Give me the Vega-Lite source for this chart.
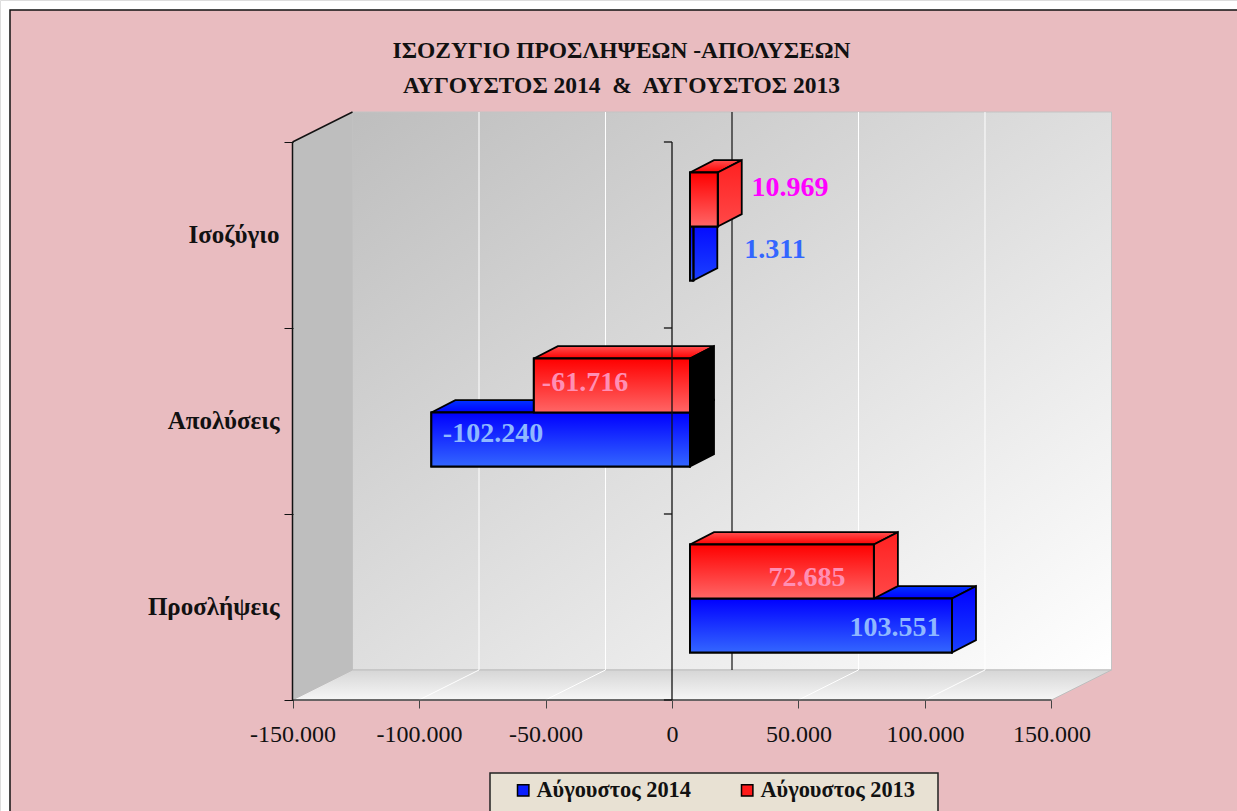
{
"$schema":"https://vega.github.io/schema/vega-lite/v6.json",
"width":1237,"height":811,"padding":0,"autosize":{"type":"none"},"background":"white",
"title":{"text":["ΙΣΟΖΥΓΙΟ ΠΡΟΣΛΗΨΕΩΝ -ΑΠΟΛΥΣΕΩΝ","ΑΥΓΟΥΣΤΟΣ 2014\u00a0 &\u00a0 ΑΥΓΟΥΣΤΟΣ 2013"],"font":"Liberation Serif","fontSize":23.5,"fontWeight":"bold","color":"#111","lineHeight":35,"anchor":"middle","dx":3,"offset":-116,"baseline":"alphabetic"},
"resolve":{"axis":{"x":"independent","y":"independent"}},
"datasets":{"bars":[
{"category":"Προσλήψεις","series":"Αύγουστος 2014","value":103551},
{"category":"Απολύσεις","series":"Αύγουστος 2014","value":-102240},
{"category":"Ισοζύγιο","series":"Αύγουστος 2014","value":1311},
{"category":"Προσλήψεις","series":"Αύγουστος 2013","value":72685},
{"category":"Απολύσεις","series":"Αύγουστος 2013","value":-61716},
{"category":"Ισοζύγιο","series":"Αύγουστος 2013","value":10969}],
"gridTicks":[{"tick":-100000},{"tick":-50000},{"tick":50000},{"tick":100000}],
"bands":[{"b":0},{"b":1},{"b":2},{"b":3}],
"one":[{"part":"frame"}]},
"layer":[
{"data":{"name":"one"},"mark":{"type":"rect","fill":"#E9BCC0","stroke":"#111","strokeWidth":1.5},
 "encoding":{
 "x":{"datum":-261663,"type":"quantitative","axis":null,"scale":{"domain":[-265615,223322],"nice":false,"zero":false}},
 "x2":{"datum":240000},
 "y":{"datum":-0.7,"type":"quantitative","axis":null,"scale":{"domain":[-0.5968,3.7634],"nice":false,"zero":false}},
 "y2":{"datum":3.7097}}},
{"data":{"name":"one"},"mark":{"type":"rect","fill":"#E8E1D3","stroke":"#222","strokeWidth":1.5},
 "encoding":{
 "x":{"datum":-71937,"type":"quantitative","axis":null,"scale":{"domain":[-265615,223322],"nice":false,"zero":false}},
 "x2":{"datum":105139},
 "y":{"datum":-0.3925,"type":"quantitative","axis":null,"scale":{"domain":[-0.5968,3.7634],"nice":false,"zero":false}},
 "y2":{"datum":-0.62}}},
{"data":{"name":"one"},"mark":{"type":"rect","fill":{"x1":0,"y1":0,"x2":1,"y2":1,"gradient":"linear","stops":[{"offset":0,"color":"#BEBEBE"},{"offset":1,"color":"#FFFFFF"}]},"stroke":"#C4C4C4"},
 "encoding":{"x":{"datum":-126284,"type":"quantitative","axis":null,"scale":{"domain":[-265615,223322],"nice":false,"zero":false}},"x2":{"datum":173716},"y":{"datum":0.1613,"type":"quantitative","axis":null,"scale":{"domain":[-0.5968,3.7634],"nice":false,"zero":false}},"y2":{"datum":3.1613}}},
{"data":{"name":"one"},"transform":[{"calculate":"[0,1]","as":"k"},{"flatten":["k"]},{"calculate":"[-150000,-126284][datum.k]","as":"xv"},{"calculate":"[0,0.1613][datum.k]","as":"a"},{"calculate":"[3,3.1613][datum.k]","as":"b"}],
 "mark":{"type":"area","orient":"vertical","fill":"#BEBEBE"},
 "encoding":{"x":{"field":"xv","type":"quantitative","axis":null,"scale":{"domain":[-265615,223322],"nice":false,"zero":false}},"y":{"field":"a","type":"quantitative","axis":null,"scale":{"domain":[-0.5968,3.7634],"nice":false,"zero":false}},"y2":{"field":"b"}}},
{"data":{"name":"one"},"transform":[{"calculate":"[0,1,2,3]","as":"k"},{"flatten":["k"]},{"calculate":"[-150000,-126284,150000,173716][datum.k]","as":"xv"},{"calculate":"[0,0.1613,0.1613,0.1613][datum.k]","as":"a"},{"calculate":"[0,0,0,0.1613][datum.k]","as":"b"}],
 "mark":{"type":"area","orient":"vertical","fill":{"x1":0,"y1":0,"x2":0,"y2":1,"gradient":"linear","stops":[{"offset":0,"color":"#D6D6D6"},{"offset":1,"color":"#F6F6F6"}]},"stroke":"#BEBEBE"},
 "encoding":{"x":{"field":"xv","type":"quantitative","axis":null,"scale":{"domain":[-265615,223322],"nice":false,"zero":false}},"y":{"field":"a","type":"quantitative","axis":null,"scale":{"domain":[-0.5968,3.7634],"nice":false,"zero":false}},"y2":{"field":"b"}}},
{"data":{"name":"gridTicks"},"transform":[{"calculate":"datum.tick+23716","as":"back"}],"mark":{"type":"rule","color":"#FFFFFF","strokeWidth":1},
 "encoding":{"x":{"field":"back","type":"quantitative","axis":null,"scale":{"domain":[-265615,223322],"nice":false,"zero":false}},"y":{"datum":0.1613,"type":"quantitative","axis":null,"scale":{"domain":[-0.5968,3.7634],"nice":false,"zero":false}},"y2":{"datum":3.1613}}},
{"data":{"name":"gridTicks"},"transform":[{"calculate":"datum.tick+23716","as":"back"}],"mark":{"type":"rule","color":"#FFFFFF","strokeWidth":1},
 "encoding":{"x":{"field":"tick","type":"quantitative","axis":null,"scale":{"domain":[-265615,223322],"nice":false,"zero":false}},"x2":{"field":"back"},"y":{"datum":0,"type":"quantitative","axis":null,"scale":{"domain":[-0.5968,3.7634],"nice":false,"zero":false}},"y2":{"datum":0.1613}}},
{"data":{"name":"one"},"mark":{"type":"rule","color":"#444","strokeWidth":1.5},
 "encoding":{"x":{"datum":-150000,"type":"quantitative","axis":null,"scale":{"domain":[-265615,223322],"nice":false,"zero":false}},"x2":{"datum":150000},"y":{"datum":0,"type":"quantitative","axis":null,"scale":{"domain":[-0.5968,3.7634],"nice":false,"zero":false}}}},
{"data":{"name":"one"},"mark":{"type":"rule","color":"#111","strokeWidth":1.5},
 "encoding":{"x":{"datum":-150000,"type":"quantitative","axis":null,"scale":{"domain":[-265615,223322],"nice":false,"zero":false}},"y":{"datum":0,"type":"quantitative","axis":null,"scale":{"domain":[-0.5968,3.7634],"nice":false,"zero":false}},"y2":{"datum":3}}},
{"data":{"name":"one"},"mark":{"type":"rule","color":"#111","strokeWidth":1.5},
 "encoding":{"x":{"datum":-150000,"type":"quantitative","axis":null,"scale":{"domain":[-265615,223322],"nice":false,"zero":false}},"x2":{"datum":-126284},"y":{"datum":3,"type":"quantitative","axis":null,"scale":{"domain":[-0.5968,3.7634],"nice":false,"zero":false}},"y2":{"datum":3.1613}}},
{"data":{"name":"one"},"mark":{"type":"rule","color":"#111","strokeWidth":1.2},
 "encoding":{"x":{"datum":23716,"type":"quantitative","axis":null,"scale":{"domain":[-265615,223322],"nice":false,"zero":false}},"y":{"datum":0.1613,"type":"quantitative","axis":null,"scale":{"domain":[-0.5968,3.7634],"nice":false,"zero":false}},"y2":{"datum":3.1613}}},
{"data":{"name":"bars"},"transform":[
 {"calculate":"indexof(['Προσλήψεις','Απολύσεις','Ισοζύγιο'],datum.category)","as":"c"},{"calculate":"datum.series=='Αύγουστος 2014'?0:1","as":"s"},
 {"calculate":"datum.c+0.255+datum.s*0.2903+0.2903","as":"yt"},{"calculate":"min(datum.value,0)+7115","as":"lo"},{"calculate":"max(datum.value,0)+7115","as":"hi"},
 {"calculate":"[0,1,2,3]","as":"k"},{"flatten":["k"]},
 {"calculate":"[datum.lo,min(datum.lo+9486,datum.hi),max(datum.lo+9486,datum.hi),datum.hi+9486][datum.k]","as":"xv"},
 {"calculate":"datum.yt+0.067*min(1,(datum.xv-datum.lo)/9486)","as":"a"},{"calculate":"datum.yt+0.067*max(0,(datum.xv-datum.hi)/9486)","as":"b"}],
 "mark":{"type":"area","orient":"vertical","stroke":"#000","strokeWidth":1.8},
 "encoding":{"x":{"field":"xv","type":"quantitative","axis":null,"scale":{"domain":[-265615,223322],"nice":false,"zero":false}},"y":{"field":"a","type":"quantitative","axis":null,"scale":{"domain":[-0.5968,3.7634],"nice":false,"zero":false}},"y2":{"field":"b"},"detail":[{"field":"category"},{"field":"series"}],
 "fill":{"condition":{"test":"datum.s==0","value":{"x1":0,"y1":0,"x2":0,"y2":1,"gradient":"linear","stops":[{"offset":0,"color":"#0033FF"},{"offset":1,"color":"#0000FF"}]}},"value":{"x1":0,"y1":0,"x2":0,"y2":1,"gradient":"linear","stops":[{"offset":0,"color":"#FF5050"},{"offset":1,"color":"#FF0000"}]}}}},
{"data":{"name":"bars"},"transform":[
 {"calculate":"indexof(['Προσλήψεις','Απολύσεις','Ισοζύγιο'],datum.category)","as":"c"},{"calculate":"datum.series=='Αύγουστος 2014'?0:1","as":"s"},
 {"calculate":"datum.c+0.255+datum.s*0.2903","as":"y0"},{"calculate":"max(datum.value,0)+7115","as":"hi"},
 {"calculate":"[0,1]","as":"k"},{"flatten":["k"]},
 {"calculate":"datum.hi+9486*datum.k","as":"xv"},{"calculate":"datum.y0+0.067*datum.k","as":"a"},{"calculate":"datum.y0+0.2903+0.067*datum.k","as":"b"}],
 "mark":{"type":"area","orient":"vertical","stroke":"#000","strokeWidth":1.8},
 "encoding":{"x":{"field":"xv","type":"quantitative","axis":null,"scale":{"domain":[-265615,223322],"nice":false,"zero":false}},"y":{"field":"a","type":"quantitative","axis":null,"scale":{"domain":[-0.5968,3.7634],"nice":false,"zero":false}},"y2":{"field":"b"},"detail":[{"field":"category"},{"field":"series"}],
 "fill":{"condition":[{"test":"datum.value<0","value":"#000000"},{"test":"datum.s==0","value":{"x1":0,"y1":0,"x2":0,"y2":1,"gradient":"linear","stops":[{"offset":0,"color":"#0000FF"},{"offset":1,"color":"#1A40FF"}]}}],"value":{"x1":0,"y1":0,"x2":0,"y2":1,"gradient":"linear","stops":[{"offset":0,"color":"#FF2020"},{"offset":1,"color":"#FF4848"}]}}}},
{"data":{"name":"bars"},"transform":[
 {"calculate":"indexof(['Προσλήψεις','Απολύσεις','Ισοζύγιο'],datum.category)","as":"c"},{"calculate":"datum.series=='Αύγουστος 2014'?0:1","as":"s"},
 {"calculate":"datum.c+0.255+datum.s*0.2903","as":"y0"},{"calculate":"datum.y0+0.2903","as":"y1"},{"calculate":"datum.value+7115","as":"end"},{"calculate":"7115","as":"start"}],
 "mark":{"type":"rect","stroke":"#000","strokeWidth":2},
 "encoding":{"x":{"field":"end","type":"quantitative","axis":null,"scale":{"domain":[-265615,223322],"nice":false,"zero":false}},"x2":{"field":"start"},"y":{"field":"y0","type":"quantitative","axis":null,"scale":{"domain":[-0.5968,3.7634],"nice":false,"zero":false}},"y2":{"field":"y1"},
 "fill":{"field":"series","type":"nominal","scale":{"domain":["Αύγουστος 2014","Αύγουστος 2013"],"range":["#0A1EFF","#FF1A1A"]},
 "legend":{"title":null,"orient":"none","legendX":490,"legendY":770,"direction":"horizontal","padding":9,"symbolType":"square","symbolSize":130,"symbolStrokeColor":"#000","symbolStrokeWidth":1.5,"labelFont":"Liberation Serif","labelFontSize":22.4,"labelFontWeight":"bold","labelColor":"#111","labelLimit":300,"columnPadding":31,"symbolOffset":13,"labelOffset":2}}}},
{"data":{"name":"bars"},"transform":[
 {"calculate":"indexof(['Προσλήψεις','Απολύσεις','Ισοζύγιο'],datum.category)","as":"c"},{"calculate":"datum.series=='Αύγουστος 2014'?0:1","as":"s"},
 {"calculate":"datum.c+0.255+datum.s*0.2903","as":"y0"},{"calculate":"datum.y0+0.2903","as":"y1"},{"calculate":"datum.value+7115","as":"end"},{"calculate":"7115","as":"start"}],
 "mark":{"type":"rect","stroke":"#000","strokeWidth":2},
 "encoding":{"x":{"field":"end","type":"quantitative","axis":null,"scale":{"domain":[-265615,223322],"nice":false,"zero":false}},"x2":{"field":"start"},"y":{"field":"y0","type":"quantitative","axis":null,"scale":{"domain":[-0.5968,3.7634],"nice":false,"zero":false}},"y2":{"field":"y1"},
 "fill":{"condition":{"test":"datum.s==0","value":{"x1":0,"y1":0,"x2":0,"y2":1,"gradient":"linear","stops":[{"offset":0,"color":"#0000FF"},{"offset":1,"color":"#3366FF"}]}},"value":{"x1":0,"y1":0,"x2":0,"y2":1,"gradient":"linear","stops":[{"offset":0,"color":"#FF0000"},{"offset":1,"color":"#FF6666"}]}}}},
{"data":{"name":"one"},"mark":{"type":"rule","color":"#111","strokeWidth":1.3},
 "encoding":{"x":{"datum":0,"type":"quantitative","axis":null,"scale":{"domain":[-265615,223322],"nice":false,"zero":false}},"y":{"datum":0,"type":"quantitative","axis":null,"scale":{"domain":[-0.5968,3.7634],"nice":false,"zero":false}},"y2":{"datum":3}}},
{"data":{"name":"bands"},"mark":{"type":"rule","color":"#111","strokeWidth":1.3},
 "encoding":{"x":{"datum":-3200,"type":"quantitative","axis":null,"scale":{"domain":[-265615,223322],"nice":false,"zero":false}},"x2":{"datum":0},"y":{"field":"b","type":"quantitative","axis":null,"scale":{"domain":[-0.5968,3.7634],"nice":false,"zero":false}}}},
{"data":{"name":"bars"},"transform":[
 {"calculate":"indexof(['Προσλήψεις','Απολύσεις','Ισοζύγιο'],datum.category)","as":"c"},{"calculate":"datum.series=='Αύγουστος 2014'?0:1","as":"s"},
 {"calculate":"[88143,53360,-70752,-34388,40712,46641][datum.c*2+datum.s]","as":"xl"},{"calculate":"[0.387,0.656,1.43,1.704,2.419,2.753][datum.c*2+datum.s]","as":"yl"},
 {"calculate":"replace(replace(format(datum.value,','),/,/g,'.'),'−','-')","as":"lab"}],
 "mark":{"type":"text","font":"Liberation Serif","fontSize":28,"fontWeight":"bold","align":"center","baseline":"middle"},
 "encoding":{
 "x":{"field":"xl","type":"quantitative","scale":{"domain":[-265615,223322],"nice":false,"zero":false},
  "axis":{"title":null,"grid":false,"domain":false,"orient":"bottom","offset":-111,"values":[-150000,-100000,-50000,0,50000,100000,150000],"labelExpr":"replace(replace(format(datum.value,','),/,/g,'.'),'−','-')","tickSize":8,"tickColor":"#444","labelFont":"Liberation Serif","labelFontSize":24,"labelColor":"#111","labelPadding":14,"labelOverlap":false,"labelFlush":false,"labelBound":false,"zindex":1}},
 "y":{"field":"yl","type":"quantitative","scale":{"domain":[-0.5968,3.7634],"nice":false,"zero":false},
  "axis":{"title":null,"grid":false,"domain":false,"orient":"left","offset":-293,"values":[0,0.5,1,1.5,2,2.5,3],"labelExpr":"datum.value==0.5?'Προσλήψεις':datum.value==1.5?'Απολύσεις':datum.value==2.5?'Ισοζύγιο':''","tickSize":9,"tickColor":"#111","tickOpacity":{"expr":"datum.value%1==0?1:0"},"labelFont":"Liberation Serif","labelFontSize":25,"labelFontWeight":"bold","labelColor":"#111","labelPadding":5,"labelOverlap":false,"labelBound":false,"labelFlush":false,"zindex":1}},
 "text":{"field":"lab"},
 "fill":{"condition":[{"test":"datum.c==2&&datum.s==1","value":"#FF00FF"},{"test":"datum.c==2","value":"#3366FF"},{"test":"datum.s==0","value":"#8FB8FF"}],"value":"#FF8FB4"}}}
]}
